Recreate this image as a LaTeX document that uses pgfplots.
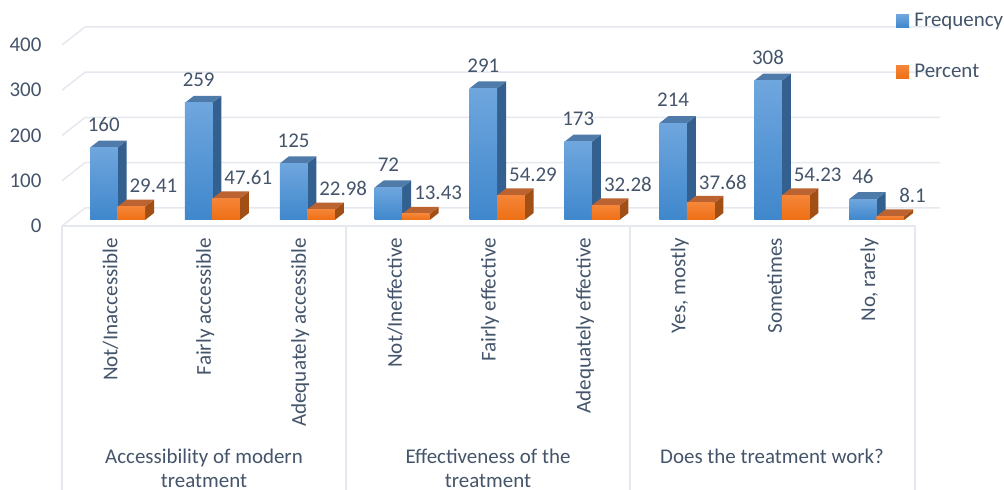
\documentclass[border=0pt]{standalone}
\usepackage{fontspec}
\setmainfont{Carlito}
\usepackage{pgfplots}
\usepackage{pgfplotstable}
\pgfplotsset{compat=1.18}

\definecolor{txt}{HTML}{44546A}
\definecolor{gridc}{HTML}{E5E8EF}
\definecolor{bluetop}{HTML}{6FA6DE}
\definecolor{bluebot}{HTML}{3F87CC}
\definecolor{blueside}{HTML}{33608F}
\definecolor{bluecap}{HTML}{4F7BAA}
\definecolor{orgtop}{HTML}{F58538}
\definecolor{orgbot}{HTML}{EE6F14}
\definecolor{orgside}{HTML}{A14F15}
\definecolor{orgcap}{HTML}{BC6431}

\pgfplotstableread{
i freq pct
0 160 29.41
1 259 47.61
2 125 22.98
3 72 13.43
4 291 54.29
5 173 32.28
6 214 37.68
7 308 54.23
8 46 8.1
}\datatable

\newcommand{\chartfont}{\fontsize{21}{25}\selectfont}
\newcommand{\catfont}{\fontsize{21.2}{25}\selectfont}

% one 3D bar at each data point: side, top and front face
% #1 left edge, #2 right edge (bp from category centre), #3 side, #4 cap, #5 front top, #6 front bottom
\pgfplotsset{
  bar3d/.style n args={6}{
    forget plot, scatter, only marks, mark=o, mark size=0pt, draw=none,
    visualization depends on={rawy \as \rawv},
    scatter/@pre marker code/.code={
      \fill[#3] (#2bp,0bp) -- (#2bp+9bp,7bp) -- (#2bp+9bp,7bp-\rawv*0.4525bp) -- (#2bp,-\rawv*0.4525bp) -- cycle;
      \fill[#4] (#1bp,0bp) -- (#1bp+9bp,7bp) -- (#2bp+9bp,7bp) -- (#2bp,0bp) -- cycle;
      \shade[top color=#5, bottom color=#6] (#1bp,0bp) rectangle (#2bp,-\rawv*0.4525bp);
      \scope[draw=none,fill=none]
    },
    scatter/@post marker code/.code={\endscope},
  },
  barlabels/.style={forget plot, only marks, mark=none, nodes near coords},
}

\begin{document}
\begin{tikzpicture}
\useasboundingbox (0,0) rectangle (1004bp,490bp);
\begin{axis}[
  at={(62bp,264bp)}, anchor=south west,
  scale only axis, width=854bp, height=200.6bp,
  xmin=-0.5, xmax=8.5, ymin=-13.26, ymax=430,
  clip=false,
  axis x line=bottom, axis y line=left,
  x axis line style={-, draw=gridc, line width=1.5bp},
  y axis line style={draw=none},
  tick style={draw=none},
  /pgf/number format/assume math mode=true,
  /pgf/number format/fixed, /pgf/number format/precision=2,
  ytick={0,100,200,300,400},
  yticklabel style={font=\chartfont, text=txt, anchor=east, xshift=-15bp, yshift=-6bp},
  xtick={0,...,8},
  xticklabels={Not/Inaccessible,Fairly accessible,Adequately accessible,Not/Ineffective,Fairly effective,Adequately effective,{Yes, mostly},Sometimes,{No, rarely}},
  xticklabel style={font=\catfont, text=txt, rotate=90, anchor=east, xshift=-6.5bp, yshift=-1bp},
  legend style={at={(0.9766,1.07)}, anchor=north west, draw=none, fill=none, font=\chartfont, text=txt, inner sep=0pt, row sep=32bp, cells={anchor=west}},
  legend image code/.code={\path[#1, draw=none] (0bp,-6.5bp) rectangle (13bp,6.5bp); \path (16bp,0bp);},
  nodes near coords style={font=\chartfont, text=txt, anchor=center},
]
\pgfplotsinvokeforeach{0,100,200,300,400}{
  \draw[gridc, line width=1.5bp] ([yshift=-6bp]axis cs:-0.5,#1) -- ++(23bp,18bp) -- ++(855bp,0bp);
}
\addlegendimage{top color=bluetop, bottom color=bluebot}
\addlegendentry{Frequency}
\addlegendimage{top color=orgtop, bottom color=orgbot}
\addlegendentry{Percent}
\addplot[bar3d={-19.4}{8.1}{blueside}{bluecap}{bluetop}{bluebot}] table[x=i, y=freq] {\datatable};
\addplot[bar3d={8.1}{35.6}{orgside}{orgcap}{orgtop}{orgbot}] table[x=i, y=pct] {\datatable};
\addplot[barlabels, nodes near coords style={xshift=-5.65bp, yshift=23bp}] table[x=i, y=freq] {\datatable};
\addplot[barlabels, nodes near coords style={xshift=44bp, yshift=21bp}] table[x=i, y=pct] {\datatable};
\end{axis}
\foreach \x in {62,346,630,915} \draw[gridc, line width=1.5bp] (\x bp,264bp) -- (\x bp,0bp);
\tikzset{grouplabel/.style={font=\chartfont, text=txt, anchor=base, inner sep=0pt}}
\node[grouplabel] at (204bp,27bp) {Accessibility of modern};
\node[grouplabel] at (204bp,2.5bp) {treatment};
\node[grouplabel] at (488bp,27bp) {Effectiveness of the};
\node[grouplabel] at (488bp,2.5bp) {treatment};
\node[grouplabel] at (772bp,27bp) {Does the treatment work?};
\end{tikzpicture}
\end{document}
